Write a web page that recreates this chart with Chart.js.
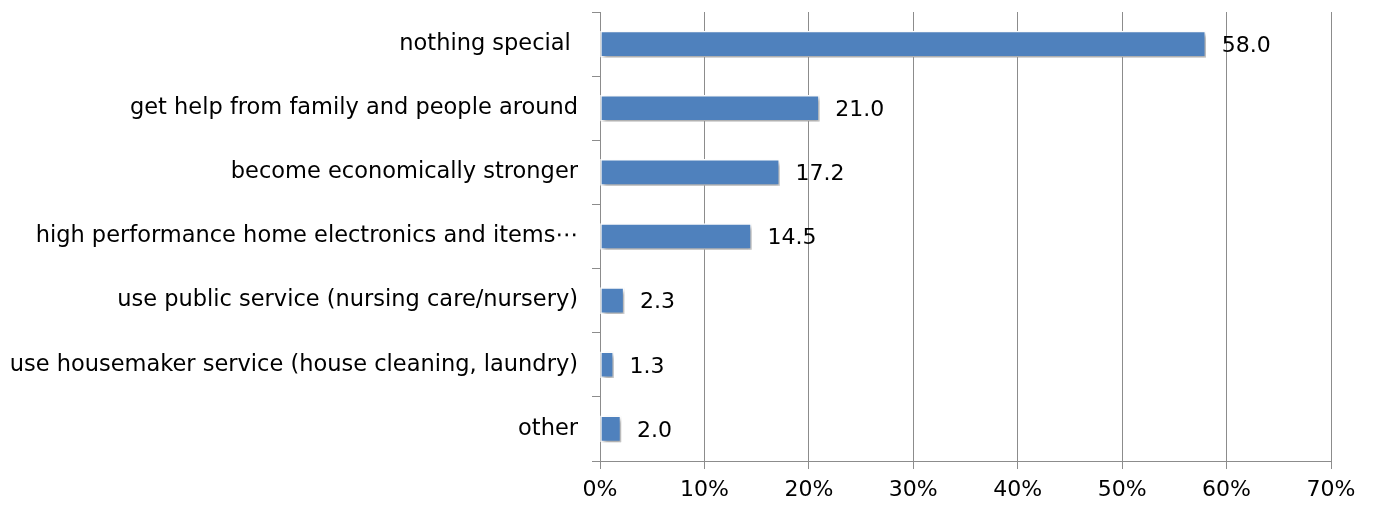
<!DOCTYPE html>
<html>
<head>
<meta charset="utf-8">
<script src="https://cdn.jsdelivr.net/npm/chart.js@4/dist/chart.umd.min.js"></script>
<style>
    html, body { margin: 0; padding: 0; background: #fff; }
    #wrap { width: 1374px; height: 508px; }
</style>
</head>
<body>
<div id="wrap"><canvas id="chart-means"></canvas></div>
<script>
    const categories = [
        "nothing special ",
        "get help from family and people around",
        "become economically stronger",
        "high performance home electronics and items\u22ef",
        "use public service (nursing care/nursery)",
        "use housemaker service (house cleaning, laundry)",
        "other",
    ];
    const values = [58.0, 21.0, 17.2, 14.5, 2.3, 1.3, 2.0];
    const tickLabels = ["0%", "10%", "20%", "30%", "40%", "50%", "60%", "70%"];

    const fontFamily = "'DejaVu Sans', Verdana, sans-serif";

    // shadow under bars, like the office chart style
    const barShadow = {
        id: "barShadow",
        beforeDatasetsDraw(chart) {
            const ctx = chart.ctx;
            ctx.save();
            ctx.shadowColor = "rgba(0, 0, 0, 0.35)";
            ctx.shadowOffsetX = 2;
            ctx.shadowOffsetY = 3;
            ctx.shadowBlur = 4;
        },
        afterDatasetsDraw(chart) {
            chart.ctx.restore();
        },
    };

    // value labels right of each bar
    const valueLabels = {
        id: "valueLabels",
        afterDatasetsDraw(chart) {
            const ctx = chart.ctx;
            const meta = chart.getDatasetMeta(0);
            ctx.save();
            ctx.font = "22px " + fontFamily;
            ctx.fillStyle = "#000";
            ctx.textBaseline = "middle";
            meta.data.forEach(function (bar, i) {
                ctx.fillText(values[i].toFixed(1), bar.x + 16, bar.y + 2);
            });
            ctx.restore();
        },
    };

    new Chart(document.getElementById("chart-means"), {
        type: "bar",
        data: {
            labels: categories,
            datasets: [
                {
                    data: values,
                    backgroundColor: "#4f81bd",
                    borderColor: "#ffffff",
                    borderWidth: 1.5,
                    borderSkipped: false,
                    barThickness: 26,
                },
            ],
        },
        options: {
            indexAxis: "y",
            responsive: true,
            maintainAspectRatio: false,
            animation: false,
            layout: { padding: { top: 12, right: 43, left: 0, bottom: 0 } },
            plugins: {
                legend: { display: false },
                tooltip: { enabled: false },
            },
            scales: {
                x: {
                    min: 0,
                    max: 70,
                    ticks: {
                        stepSize: 10,
                        color: "#000",
                        padding: 8,
                        font: { family: fontFamily, size: 22 },
                        callback: function (v, i) {
                            return tickLabels[i];
                        },
                    },
                    grid: {
                        color: "#8c8c8c",
                        lineWidth: 1,
                        tickLength: 8,
                    },
                    border: { color: "#8c8c8c" },
                    afterFit: function (scale) {
                        scale.height = 47;
                        scale.paddingLeft = 0;
                        scale.paddingRight = 0;
                    },
                },
                y: {
                    offset: true,
                    ticks: {
                        color: "#000",
                        padding: 14,
                        font: { family: fontFamily, size: 22.5 },
                    },
                    grid: {
                        offset: true,
                        drawOnChartArea: false,
                        color: "#8c8c8c",
                        tickLength: 8,
                    },
                    border: { color: "#8c8c8c" },
                    afterFit: function (scale) {
                        scale.width = 600;
                        scale.paddingTop = 0;
                        scale.paddingBottom = 0;
                    },
                },
            },
        },
        plugins: [barShadow, valueLabels],
    });
</script>
</body>
</html>
